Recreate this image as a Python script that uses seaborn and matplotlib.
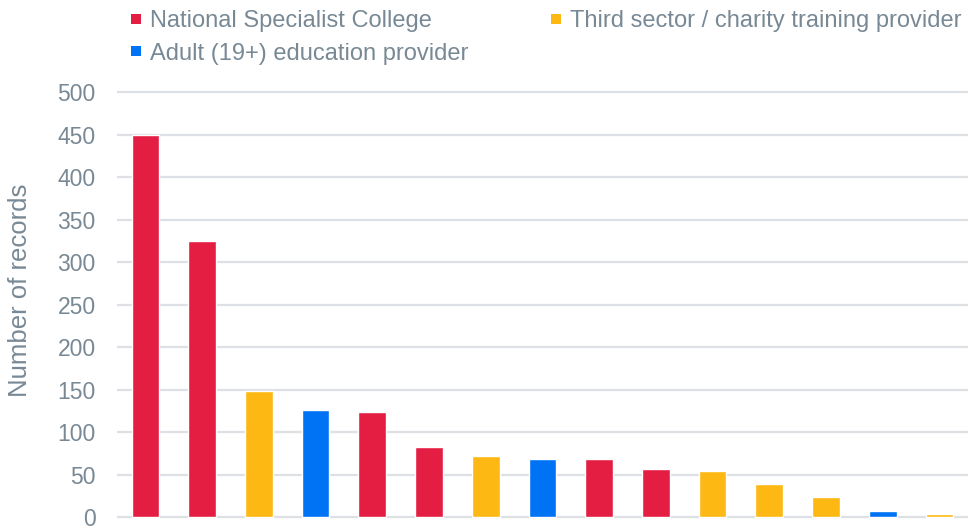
import matplotlib
matplotlib.use("Agg")
import matplotlib.pyplot as plt
from matplotlib.lines import Line2D
import seaborn as sns
import pandas as pd

# ---- data ----
categories = [str(i) for i in range(1, 16)]
values = [450, 325, 149, 126, 124, 83, 72, 69, 68, 57, 54, 39, 24, 7, 4]
provider_types = [
    "National Specialist College", "National Specialist College",
    "Third sector / charity training provider", "Adult (19+) education provider",
    "National Specialist College", "National Specialist College",
    "Third sector / charity training provider", "Adult (19+) education provider",
    "National Specialist College", "National Specialist College",
    "Third sector / charity training provider", "Third sector / charity training provider",
    "Third sector / charity training provider", "Adult (19+) education provider",
    "Third sector / charity training provider",
]
y_ticks = [0, 50, 100, 150, 200, 250, 300, 350, 400, 450, 500]
y_label = "Number of records"

palette = {
    "National Specialist College": "#E31E42",
    "Third sector / charity training provider": "#FDB813",
    "Adult (19+) education provider": "#0073F5",
}
legend_order = ["National Specialist College", "Adult (19+) education provider",
                "Third sector / charity training provider"]
text_color = "#788995"
grid_color = "#DDE1E5"

df = pd.DataFrame({"cat": categories, "value": values, "type": provider_types})

sns.set_theme(style="white")
plt.rcParams["font.family"] = ["Liberation Sans", "DejaVu Sans"]

fig = plt.figure(figsize=(9.69, 5.26), dpi=100)
ax = fig.add_axes([117.1 / 969, 0.0117, 850.7 / 969, 0.8209])

sns.barplot(data=df, x="cat", y="value", hue="type", palette=palette,
            dodge=False, width=0.49, order=categories, ax=ax, legend=False,
            saturation=1)

ax.set_ylim(-3, 505)
ax.set_xlim(-0.5, 14.5)
ax.set_yticks(y_ticks)
ax.set_yticklabels([str(t) for t in y_ticks], fontsize=16.5, color=text_color)
ax.tick_params(axis="y", length=0, pad=15.5)
ax.set_xticks([])
ax.set_xlabel("")
ax.set_ylabel(y_label, fontsize=18.5, color=text_color)
ax.yaxis.set_label_coords(-0.100, 0.532)
for s in ax.spines.values():
    s.set_visible(False)
ax.yaxis.grid(True, color=grid_color, linewidth=1.6)
ax.set_axisbelow(True)

handles = [Line2D([0], [0], marker="s", linestyle="none", markersize=7.5,
                  markerfacecolor=palette[k], markeredgewidth=0) for k in legend_order]
fig.legend(handles, legend_order, loc="upper left", bbox_to_anchor=(0.128, 0.99),
           ncol=2, frameon=False, fontsize=17, labelcolor=text_color,
           handlelength=0.6, handletextpad=0.3, columnspacing=3.4,
           labelspacing=0.45, borderpad=0.2, borderaxespad=0)

fig.savefig("out.png", dpi=100)
